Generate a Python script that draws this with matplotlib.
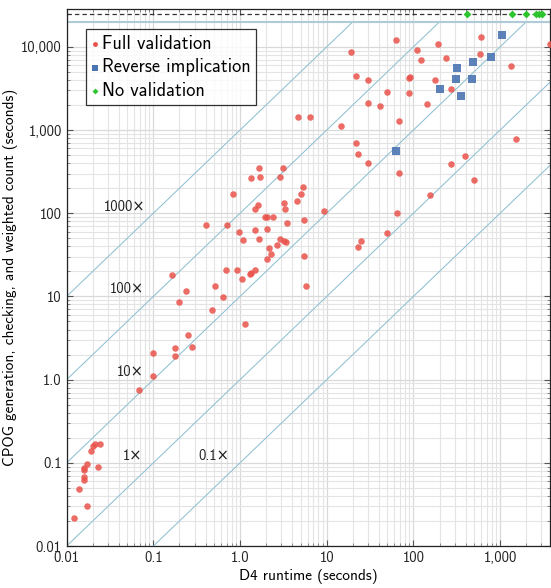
import matplotlib
matplotlib.use("Agg")
import matplotlib.pyplot as plt
import numpy as np
from matplotlib.ticker import FixedLocator, FixedFormatter, LogLocator, NullFormatter

plt.rcParams['font.family'] = ['cmss10', 'DejaVu Sans']
plt.rcParams['axes.formatter.use_mathtext'] = True

# Full validation (D4 runtime s, CPOG time s)
full_x = [0.012, 0.017, 0.014, 0.016, 0.016, 0.016, 0.016, 0.017, 0.023, 0.019, 0.020, 0.021, 0.024,
          0.069, 0.10, 0.10, 0.18, 0.18, 0.28, 0.25, 0.165, 0.24, 0.20, 0.52, 0.64, 0.47, 1.15,
          0.40, 0.71, 0.68, 0.92, 1.04, 0.84, 0.98, 1.08, 1.30, 1.33, 1.49, 1.35, 1.66, 1.70,
          1.62, 1.47, 1.49, 1.66, 1.94, 2.03, 2.4, 2.06, 2.64, 2.14, 2.27, 2.04, 2.9, 3.1, 3.18,
          3.32, 3.5, 2.88, 3.18, 3.38, 4.5, 5.0, 5.3, 5.5, 5.46, 5.7, 9.2, 4.65, 6.35, 14.7,
          22, 22.7, 30, 69, 65, 49, 24.8, 23, 268, 390, 500, 156, 1510, 63, 19, 192, 600,
          111, 121, 240, 590, 1340, 3750, 22, 30, 89, 92, 176, 49, 90, 271, 30, 41, 144, 69]
full_y = [0.022, 0.030, 0.048, 0.063, 0.068, 0.082, 0.086, 0.097, 0.088, 0.14, 0.16, 0.17, 0.17,
          0.76, 1.1, 2.1, 2.4, 1.9, 2.5, 3.4, 18, 11.7, 8.5, 13.4, 9.9, 6.9, 4.7,
          72, 72, 21, 21, 16, 171, 59, 48, 18.8, 19.2, 21, 267, 347, 270,
          127, 111, 63, 49, 89, 89, 91, 64, 42, 38, 32, 28, 270, 347, 131,
          111, 76, 48.5, 47, 45, 140, 171, 206, 82, 31, 13.2, 105, 1430, 1430, 1120,
          690, 520, 400, 307, 102, 58, 46, 39, 390, 490, 253, 164, 773, 12200, 8700, 10900, 13200,
          9200, 6900, 7300, 8100, 5900, 10800, 4460, 3960, 4180, 4340, 3990, 2890, 2790, 3140, 2130, 1930, 2070, 1270]

# Reverse implication
rev_x = [1040, 780, 490, 320, 312, 469, 204, 350, 63]
rev_y = [13900, 7500, 6600, 5600, 4060, 4060, 3110, 2580, 560]

# No validation (timeouts, plotted at the cap)
noval_x = [418, 1380, 2010, 2620, 2800, 3035]
noval_y = [25000, 25000, 25000, 25000, 25000, 25000]

ratios = [1000, 100, 10, 1, 0.1]
ratio_labels = ["1000×", "100×", "10×", "1×", "0.1×"]

x_ticks = [0.01, 0.1, 1, 10, 100, 1000]
x_ticklabels = ["0.01", "0.1", "1.0", "10", "100", "1,000"]
y_ticks = [0.01, 0.1, 1, 10, 100, 1000, 10000]
y_ticklabels = ["0.01", "0.1", "1.0", "10", "100", "1,000", "10,000"]

XMIN, XMAX = 0.01, 3750
YMIN, YMAX = 0.01, 28500
CAP = 20000
TIMEOUT = 25000

fig = plt.figure(figsize=(5.51, 5.88), dpi=100)
ax = fig.add_axes([0.121, 0.0714, 0.877, 0.9133])
ax.set_xscale('log')
ax.set_yscale('log')
ax.set_xlim(XMIN, XMAX)
ax.set_ylim(YMIN, YMAX)

ax.grid(True, which='major', color='#d9d9d9', lw=0.9, zorder=0)
ax.grid(True, which='minor', color='#e4e4e4', lw=0.8, zorder=0)
ax.set_axisbelow(True)

line_col = '#8fc0d3'
for k in ratios:
    xe = min(XMAX, CAP / k)
    xs = np.array([XMIN, xe])
    ax.plot(xs, k * xs, color=line_col, lw=0.75, zorder=1)
ax.axhline(CAP, color='#afcbd8', lw=1.5, zorder=1)
ax.axhline(TIMEOUT, color='#333333', lw=0.9, ls=(0, (3.5, 2.5)), zorder=1)

label_pos = [(0.047, 119), (0.049, 12.3), (0.054, 1.23), (0.058, 0.121), (0.50, 0.121)]
for (lx, ly), t in zip(label_pos, ratio_labels):
    ax.text(lx, ly, t, ha='center', va='center', fontsize=10.5, color='#222222', zorder=2)

ax.scatter(full_x, full_y, s=22, marker='o', color='#e8534b', alpha=0.85, lw=0,
           label='Full validation', zorder=3)
ax.scatter(rev_x, rev_y, s=26, marker='s', color='#4b74b3', alpha=0.9, lw=0,
           label='Reverse implication', zorder=4)
ax.scatter(noval_x, noval_y, s=16, marker='D', color='#2ec42e', lw=0,
           label='No validation', zorder=4, clip_on=False)

ax.xaxis.set_major_locator(FixedLocator(x_ticks))
ax.xaxis.set_major_formatter(FixedFormatter(x_ticklabels))
ax.yaxis.set_major_locator(FixedLocator(y_ticks))
ax.yaxis.set_major_formatter(FixedFormatter(y_ticklabels))
ax.xaxis.set_minor_locator(LogLocator(base=10, subs=np.arange(2, 10), numticks=20))
ax.yaxis.set_minor_locator(LogLocator(base=10, subs=np.arange(2, 10), numticks=20))
ax.xaxis.set_minor_formatter(NullFormatter())
ax.yaxis.set_minor_formatter(NullFormatter())

ax.tick_params(which='both', direction='in', top=True, right=True, labelsize=10.5, colors='#222222')
ax.tick_params(which='major', length=4, width=0.8, color='#555555')
ax.tick_params(which='minor', length=2.5, width=0.6, color='#777777')
for sp in ax.spines.values():
    sp.set_color('#222222')
    sp.set_linewidth(0.9)

ax.set_xlabel('D4 runtime (seconds)', fontsize=11, labelpad=3)
ax.set_ylabel('CPOG generation, checking, and weighted count (seconds)', fontsize=11, labelpad=2)

leg = ax.legend(loc='upper left', bbox_to_anchor=(0.04, 0.962), borderaxespad=0,
                fontsize=13.2, frameon=True, fancybox=False, handlelength=0.35,
                handletextpad=0.2, borderpad=0.3, labelspacing=0.3, markerscale=0.75)
leg.get_frame().set_edgecolor('black')
leg.get_frame().set_linewidth(0.9)
for h in leg.legend_handles:
    h.set_alpha(1)

fig.savefig('out.png', dpi=100)
